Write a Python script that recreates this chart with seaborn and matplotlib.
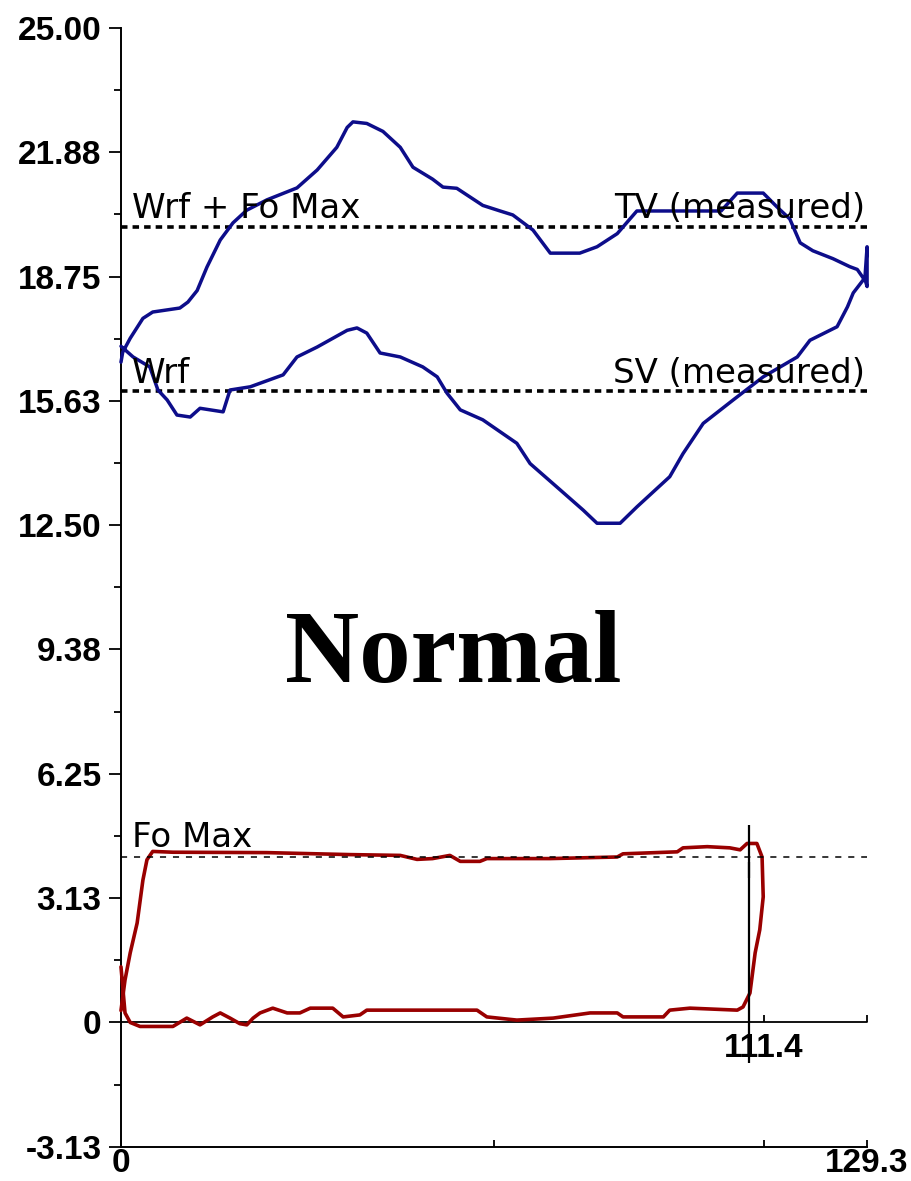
import numpy as np
import pandas as pd
import matplotlib
matplotlib.use("Agg")
import matplotlib.pyplot as plt
import seaborn as sns

# ---------------- data ----------------
x_max = 129.3
y_min, y_max = -3.13, 25.00
y_ticks = [-3.13, 0, 3.13, 6.25, 9.38, 12.50, 15.63, 18.75, 21.88, 25.00]
y_tick_labels = ["-3.13", "0", "3.13", "6.25", "9.38", "12.50", "15.63", "18.75", "21.88", "25.00"]
x_ticks = [0, 64.65, 111.4, 129.3]
x_tick_labels = ["0", "", "", "129.3"]

wrf = 15.87
fo_max = 4.16
wrf_plus_fo = 20.0
marker_x = 108.9
marker_value = 111.4
marker_seg_low = [3.64, -1.02]
marker_seg_high = [4.96, 4.03]

# blue loop (upper branch left->right, then lower branch right->left)
blue_x = [0.0, 0.3, 1.6, 3.8, 5.5, 10.2, 11.6, 13.2, 14.9, 17.2, 19.4, 21.8, 25.3, 30.5, 34.0,
          37.4, 39.2, 40.2, 42.6, 45.4, 48.4, 50.6, 54.0, 55.8, 58.2, 62.7, 65.7, 67.9, 71.4,
          74.4, 79.5, 82.5, 86.0, 89.4, 95.1, 104.0, 106.8, 111.3, 113.7, 115.9, 117.7, 119.9,
          123.4, 126.3, 127.6, 128.9, 129.3, 129.3, 128.9,
          128.6, 126.9, 125.9, 124.1, 119.4, 117.2, 111.3, 106.1, 100.9, 97.4, 95.1, 89.4, 86.5,
          82.5, 80.1, 76.1, 70.9, 68.6, 62.7, 58.8, 56.5, 54.8, 52.3, 48.4, 44.9, 42.6, 40.9,
          39.2, 34.0, 30.5, 28.1, 22.4, 18.9, 17.7, 13.7, 12.0, 9.7, 8.0, 6.4, 5.0, 2.1, 0.0]
blue_y = [16.6, 16.85, 17.2, 17.7, 17.86, 17.96, 18.11, 18.4, 18.99, 19.67, 20.1, 20.42, 20.68,
          20.98, 21.43, 22.0, 22.5, 22.64, 22.6, 22.4, 22.0, 21.5, 21.2, 21.0, 20.97, 20.54,
          20.4, 20.3, 19.92, 19.34, 19.34, 19.5, 19.83, 20.4, 20.4, 20.4, 20.85, 20.85, 20.5,
          20.2, 19.6, 19.4, 19.2, 19.0, 18.93, 18.66, 19.5, 18.5, 18.7,
          18.66, 18.34, 17.99, 17.49, 17.15, 16.73, 16.23, 15.65, 15.06, 14.3, 13.72, 12.96,
          12.55, 12.55, 12.88, 13.39, 14.05, 14.56, 15.15, 15.4, 15.82, 16.23, 16.48, 16.73,
          16.83, 17.33, 17.46, 17.4, 16.98, 16.73, 16.28, 15.98, 15.9, 15.35, 15.44, 15.22,
          15.27, 15.65, 15.9, 16.48, 16.73, 17.0]

# red loop
red_x = [0.0, 0.7, 1.6, 2.8, 3.8, 4.5, 5.5, 9.0, 25.3, 39.7, 48.4, 51.3, 54.0, 57.0, 58.8, 62.2,
         63.4, 74.4, 86.0, 87.0, 96.4, 97.4, 101.6, 105.5, 107.3, 108.5, 110.2, 111.1, 111.3,
         110.7, 109.9, 109.0, 107.8, 106.8, 98.6, 95.1, 94.0, 87.0, 86.0, 81.3, 74.9, 68.6,
         63.4, 61.7, 42.6, 41.4, 38.5, 36.7, 32.8, 31.0, 28.8, 26.3, 24.1, 22.9, 21.8, 20.6,
         18.9, 17.2, 15.9, 13.7, 11.4, 9.0, 3.3, 1.6, 0.7, 0.0]
red_y = [0.3, 1.07, 1.75, 2.5, 3.58, 4.09, 4.3, 4.28, 4.27, 4.22, 4.2, 4.1, 4.12, 4.2, 4.05,
         4.05, 4.12, 4.12, 4.16, 4.24, 4.29, 4.39, 4.42, 4.39, 4.34, 4.5, 4.5, 4.16, 3.16, 2.33,
         1.75, 0.74, 0.39, 0.31, 0.36, 0.31, 0.14, 0.14, 0.24, 0.24, 0.11, 0.06, 0.14, 0.31,
         0.31, 0.19, 0.14, 0.36, 0.36, 0.24, 0.24, 0.36, 0.24, 0.11, -0.06, -0.03, 0.11, 0.24,
         0.14, -0.06, 0.11, -0.1, -0.1, 0.0, 0.24, 1.4]

blue_color = "#0d0d8a"
red_color = "#990000"

# ---------------- style ----------------
sns.set_theme(style="white")
plt.rcParams["font.family"] = ["DejaVu Sans"]
plt.rcParams["text.color"] = "black"
plt.rcParams["xtick.color"] = "black"
plt.rcParams["ytick.color"] = "black"
plt.rcParams["xtick.labelcolor"] = "black"
plt.rcParams["ytick.labelcolor"] = "black"

fig = plt.figure(figsize=(9.11, 11.81), dpi=100)
ax = fig.add_axes([0.1328, 0.0288, 0.8190, 0.9475])
ax.set_facecolor("white")

# curves
blue_df = pd.DataFrame({"x": blue_x, "y": blue_y})
red_df = pd.DataFrame({"x": red_x, "y": red_y})
sns.lineplot(data=blue_df, x="x", y="y", sort=False, estimator=None, color=blue_color,
             lw=2.5, ax=ax, clip_on=False, zorder=3)
sns.lineplot(data=red_df, x="x", y="y", sort=False, estimator=None, color=red_color,
             lw=2.6, ax=ax, clip_on=False, zorder=3)

# reference lines
ax.plot([0, x_max], [wrf_plus_fo, wrf_plus_fo], color="black", lw=2.6,
        dashes=(1.8, 1.4), clip_on=False, zorder=2)
ax.plot([0, x_max], [wrf, wrf], color="black", lw=2.6,
        dashes=(1.8, 1.4), clip_on=False, zorder=2)
ax.plot([0, x_max], [fo_max, fo_max], color="black", lw=1.1,
        dashes=(4.0, 4.5), clip_on=False, zorder=4)

# zero axis with ticks
ax.plot([0, x_max], [0, 0], color="black", lw=1.3, clip_on=False, zorder=2)
ax.vlines([marker_value, x_max], 0, 0.2, color="black", lw=1.3, clip_on=False)
ax.vlines([marker_x, marker_x], marker_seg_low, marker_seg_high, color="black", lw=1.6,
          zorder=4, clip_on=False)

# labels
lab_kw = dict(fontsize=24.5, color="black", family="DejaVu Sans")
ax.text(1.9, wrf_plus_fo + 0.22, "Wrf + Fo Max", ha="left", va="baseline", **lab_kw)
ax.text(128.9, wrf_plus_fo + 0.22, "TV (measured)", ha="right", va="baseline", **lab_kw)
ax.text(1.9, wrf + 0.2, "Wrf", ha="left", va="baseline", **lab_kw)
ax.text(128.9, wrf + 0.2, "SV (measured)", ha="right", va="baseline", **lab_kw)
ax.text(1.9, fo_max + 0.24, "Fo Max", ha="left", va="baseline", **lab_kw)
ax.text(marker_value, -0.27, "111.4", ha="center", va="top", fontsize=24,
        fontweight="bold", family="Liberation Sans", color="black")
ax.text(57.5, 8.56, "Normal", ha="center", va="baseline", fontsize=74,
        fontweight="bold", family="Liberation Serif", color="black")

# axes
ax.set_xlim(0, x_max)
ax.set_ylim(y_min, y_max)
ax.set_xlabel("")
ax.set_ylabel("")
ax.set_yticks(y_ticks)
ax.set_yticklabels(y_tick_labels)
minor = [(a + b) / 2 for a, b in zip(y_ticks[:-1], y_ticks[1:])]
ax.set_yticks(minor, minor=True)
ax.set_xticks(x_ticks)
ax.set_xticklabels(x_tick_labels)

for lbl in ax.get_yticklabels() + ax.get_xticklabels():
    lbl.set_fontfamily("Liberation Sans")
    lbl.set_fontweight("bold")
    lbl.set_fontsize(24)
    lbl.set_color("black")

ax.tick_params(axis="y", which="major", direction="out", length=8.6, width=1.3,
               pad=5.5, color="black", left=True)
ax.tick_params(axis="y", which="minor", direction="out", length=5, width=1.3,
               color="black", left=True)
ax.tick_params(axis="x", which="major", direction="in", length=5, width=1.3,
               pad=0.5, color="black", bottom=True)

for side in ["top", "right"]:
    ax.spines[side].set_visible(False)
for side in ["left", "bottom"]:
    ax.spines[side].set_color("black")
    ax.spines[side].set_linewidth(1.4)

fig.savefig("out.png", dpi=100, facecolor="white")
